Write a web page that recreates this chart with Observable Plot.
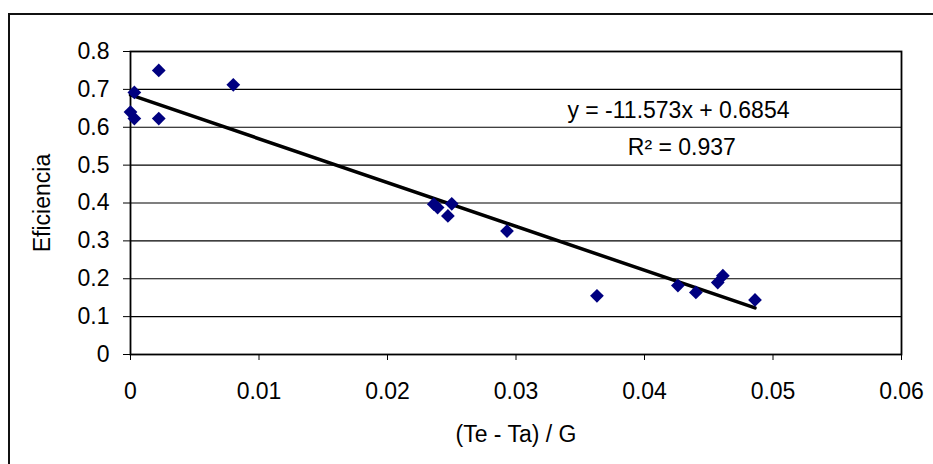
<!DOCTYPE html>
<html>
<head>
<meta charset="utf-8">
<script src="https://cdn.jsdelivr.net/npm/d3@7"></script>
<script src="https://cdn.jsdelivr.net/npm/@observablehq/plot@0.6"></script>
<style>
  html, body { margin: 0; padding: 0; background: #fff; }
  #wrap { position: relative; width: 933px; height: 464px; overflow: hidden; }
  #border { position: absolute; left: 8px; top: 13px; width: 960px; height: 480px; border: 2px solid #111; box-sizing: border-box; pointer-events: none; }
</style>
</head>
<body>
<div id="wrap"><div id="border"></div></div>
<script>
// Data
const xValues = [0.0000, 0.0003, 0.0003, 0.0022, 0.0022, 0.0080, 0.0236, 0.0239, 0.0247, 0.0250, 0.0293, 0.0363, 0.0426, 0.0440, 0.0457, 0.0461, 0.0486];
const yValues = [0.640, 0.623, 0.692, 0.750, 0.623, 0.712, 0.397, 0.388, 0.366, 0.398, 0.326, 0.155, 0.182, 0.164, 0.190, 0.208, 0.144];
const xTicks = [0, 0.01, 0.02, 0.03, 0.04, 0.05, 0.06];
const yTicks = [0, 0.1, 0.2, 0.3, 0.4, 0.5, 0.6, 0.7, 0.8];
const gridValues = [0.1, 0.2, 0.3, 0.4, 0.5, 0.6, 0.7];
const slope = -11.573;
const intercept = 0.6854;
const eqLines = ["y = -11.573x + 0.6854", "R² = 0.937"];
const eqX = [0.0340, 0.0387];
const eqY = [0.645, 0.545];
const xLabel = "(Te - Ta) / G";
const yLabel = "Eficiencia";

const points = xValues.map((x, i) => ({x, y: yValues[i]}));
const xMax = d3.max(xValues);
const trend = [0, xMax].map(x => ({x, y: slope * x + intercept}));
const eq = eqLines.map((t, i) => ({t, x: eqX[i], y: eqY[i]}));

const font = "'Liberation Sans', Arial, sans-serif";
const fs = 23;

const chart = Plot.plot({
  width: 933,
  height: 464,
  marginLeft: 130,
  marginRight: 32,
  marginTop: 51,
  marginBottom: 110,
  style: { fontFamily: font, fontSize: fs + "px", background: "transparent", color: "#000" },
  x: { domain: [0, 0.06] },
  y: { domain: [0, 0.8] },
  marks: [
    Plot.ruleY(gridValues, { stroke: "#000", strokeWidth: 1.2 }),
    Plot.frame({ stroke: "#000", strokeWidth: 1.8 }),
    Plot.axisY({ ticks: yTicks, tickSize: 7, tickPadding: 14, tickFormat: d => String(d), label: null, fontSize: fs, stroke: "#000" }),
    Plot.axisX({ ticks: xTicks, tickSize: 6, tickPadding: 22, tickFormat: d => String(d), label: null, fontSize: fs, stroke: "#000" }),
    Plot.text([xLabel], { frameAnchor: "bottom", dy: 80, textAnchor: "middle", lineAnchor: "middle", fontSize: fs, fill: "#000" }),
    Plot.text([yLabel], { frameAnchor: "left", dx: -88, rotate: -90, textAnchor: "middle", lineAnchor: "middle", fontSize: fs, fill: "#000" }),
    Plot.line(trend, { x: "x", y: "y", stroke: "#000", strokeWidth: 3.5 }),
    Plot.dot(points, { x: "x", y: "y", symbol: "diamond2", r: 6.2, fill: "#000080", stroke: "none" }),
    Plot.text(eq, { x: "x", y: "y", text: "t", textAnchor: "start", lineAnchor: "middle", fontSize: fs, fill: "#000" })
  ]
});
document.getElementById("wrap").appendChild(chart);
chart.style.position = "absolute";
chart.style.left = "0";
chart.style.top = "0";
</script>
</body>
</html>
